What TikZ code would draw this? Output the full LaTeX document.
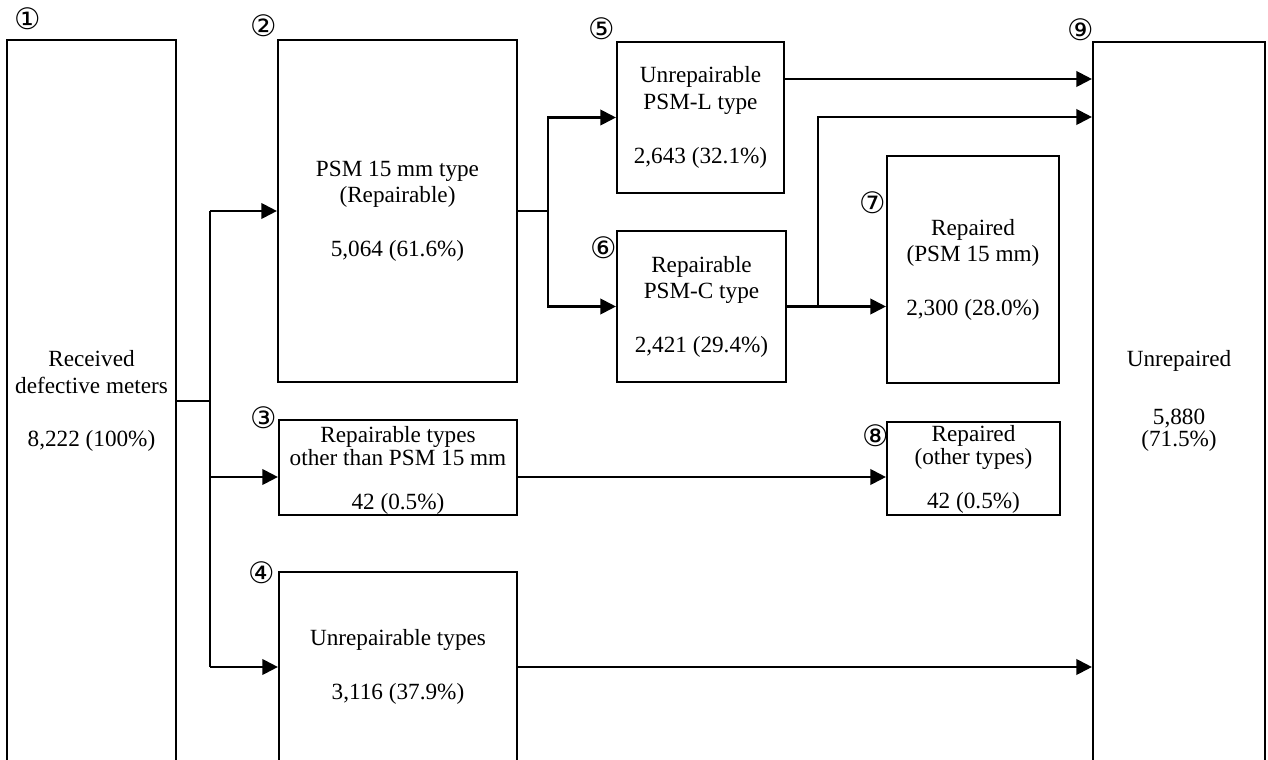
\documentclass[tikz,border=0pt]{standalone}
\usepackage{fontspec}
\setmainfont{Liberation Serif}
\newfontfamily\circfont{DejaVu Sans}
\usetikzlibrary{arrows.meta}
\newcommand\txtfont{\fontsize{16.5}{19}\selectfont}
\newcommand\txtfonttight{\fontsize{16.5}{15.8}\selectfont}
\begin{document}
\begin{tikzpicture}[x=0.025cm,y=-0.025cm,
  box/.style={draw, line width=1.5pt, inner sep=0pt, align=center, font=\txtfont},
  tightbox/.style={box, font=\txtfonttight},
  txt/.style={inner sep=0pt, align=center, font=\txtfont},
  num/.style={inner sep=0pt, font=\circfont\fontsize{21}{21}\selectfont},
  conn/.style={line width=1.5pt},
  arr/.style={conn, -{Triangle[length=11pt,width=11pt]}}]
\useasboundingbox (0,0) rectangle (1268,760);
\clip (0,0) rectangle (1268,760);
% boxes
\node[box, minimum width=4.225cm, minimum height=18.75cm] (b1) at (91.5,415) {};
\node[box, minimum width=5.975cm, minimum height=8.55cm] (b2) at (397.5,211)
  {PSM 15 mm type\\(Repairable)\\[19pt]5,064 (61.6\%)};
\node[tightbox, minimum width=5.95cm, minimum height=2.375cm] (b3) at (398,467.5)
  {\rule{0pt}{16pt}Repairable types\\other than PSM 15 mm\\[15.8pt]42 (0.5\%)};
\node[box, minimum width=5.95cm, minimum height=5.7cm] (b4) at (398,686) {};
\node[box, minimum width=4.175cm, minimum height=3.775cm] (b5) at (700.5,117.5)
  {Unrepairable\\PSM-L type\\[19pt]2,643 (32.1\%)};
\node[box, minimum width=4.225cm, minimum height=3.775cm] (b6) at (701.5,306.5)
  {Repairable\\PSM-C type\\[19pt]2,421 (29.4\%)};
\node[box, minimum width=4.3cm, minimum height=5.675cm] (b7) at (973,269.5)
  {Repaired\\(PSM 15 mm)\\[19pt]2,300 (28.0\%)};
\node[tightbox, minimum width=4.325cm, minimum height=2.325cm] (b8) at (973.5,468.5)
  {\rule{0pt}{13pt}Repaired\\(other types)\\[15.8pt]42 (0.5\%)};
\node[box, minimum width=4.3cm, minimum height=18.95cm] (b9) at (1179,421) {};
% texts of the open boxes
\node[txt] (t1) at (91.5,401) {Received\\defective meters\\[19pt]8,222 (100\%)};
\node[txt] (t4) at (398,667) {Unrepairable types\\[19pt]3,116 (37.9\%)};
\node[txt] (t9) at (1179,401) {Unrepaired\\[22pt]5,880\\[-3.4pt](71.5\%)};
% circled numbers
\node[num] (n1) at (28,19) {①};
\node[num] (n2) at (264,26) {②};
\node[num] (n3) at (264,418) {③};
\node[num] (n4) at (262,573) {④};
\node[num] (n5) at (602,29) {⑤};
\node[num] (n6) at (604,248) {⑥};
\node[num] (n7) at (873,203) {⑦};
\node[num] (n8) at (876,436) {⑧};
\node[num] (n9) at (1081,30) {⑨};
% helper coordinates
\coordinate (t) at (210,401);
\coordinate (tTop) at (210,211);
\coordinate (t3) at (210,477);
\coordinate (tBot) at (210,667);
\coordinate (s) at (548,211);
\coordinate (y5) at (0,79);
\coordinate (br) at (818,306.5);
\coordinate (y9) at (0,117);
% connectors
\draw[conn] (b1.east |- t) -- (t);
\draw[conn] (tTop) -- (tBot);
\draw[arr] (tTop) -- (b2.west |- tTop);
\draw[arr] (t3) -- (b3.west |- t3);
\draw[arr] (tBot) -- (b4.west |- tBot);
\draw[conn] (b2.east |- s) -- (s);
\draw[arr] (s) |- (b5.west);
\draw[arr] (s) |- (b6.west);
\draw[arr] (b5.east |- y5) -- (b9.west |- y5);
\draw[arr] (b6.east) -- (b7.west |- b6.east);
\draw[arr] (br) |- (b9.west |- y9);
\draw[arr] (b3.east |- t3) -- (b8.west |- t3);
\draw[arr] (b4.east |- tBot) -- (b9.west |- tBot);
\end{tikzpicture}
\end{document}
